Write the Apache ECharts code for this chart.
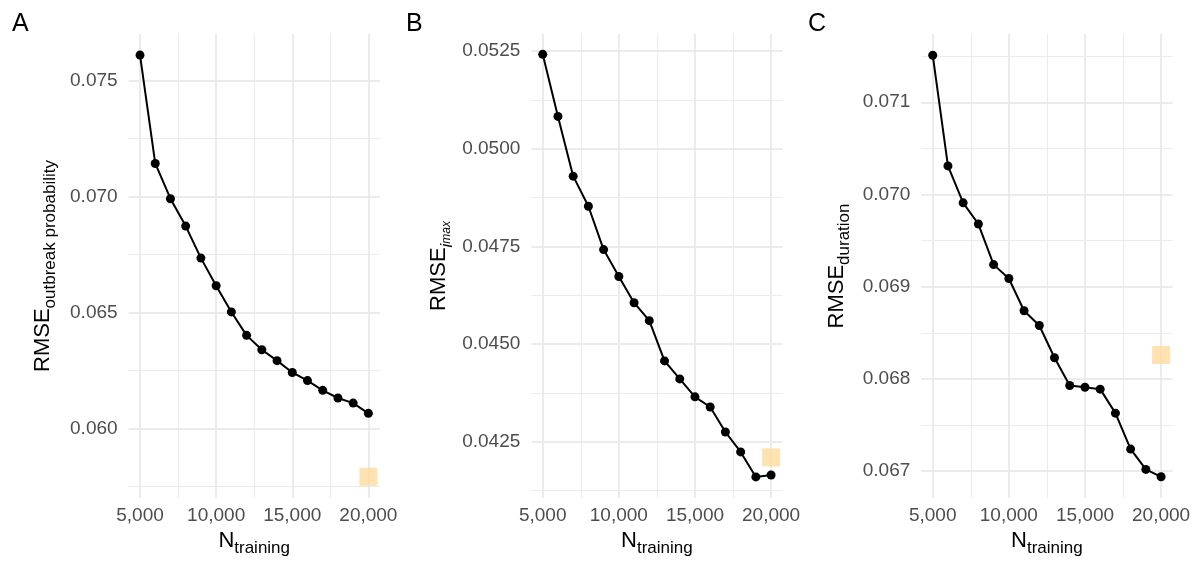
<!DOCTYPE html>
<html>
<head>
<meta charset="utf-8">
<script src="https://cdn.jsdelivr.net/npm/echarts@6/dist/echarts.min.js"></script>
<style>
html,body{margin:0;padding:0;background:#fff;}
#chart{width:1198px;height:563px;}
</style>
</head>
<body>
<div id="chart"></div>
<script>
// ---- data ----
const nTraining = [5000, 6000, 7000, 8000, 9000, 10000, 11000, 12000, 13000, 14000, 15000, 16000, 17000, 18000, 19000, 20000];
const rmseOutbreak = [0.07609, 0.07142, 0.06990, 0.06872, 0.06734, 0.06615, 0.06502, 0.06401, 0.06339, 0.06292, 0.06241, 0.06206, 0.06164, 0.06131, 0.06109, 0.06065];
const rmseImax = [0.05242, 0.05083, 0.04930, 0.04853, 0.04742, 0.04673, 0.04606, 0.04560, 0.04457, 0.04411, 0.04365, 0.04339, 0.04275, 0.04224, 0.04160, 0.04165];
const rmseDuration = [0.07151, 0.07031, 0.06991, 0.06968, 0.06924, 0.06909, 0.06874, 0.06858, 0.06823, 0.06793, 0.06791, 0.06789, 0.06763, 0.06724, 0.06702, 0.06694];
const benchmarkN = [20000];
const benchOutbreak = [0.05791];
const benchImax = [0.04210];
const benchDuration = [0.06826];
const panelLetters = ['A', 'B', 'C'];
const xMajorTicks = [5000, 10000, 15000, 20000];
const xMinorTicks = [7500, 12500, 17500];
const yMajorA = [0.060, 0.065, 0.070, 0.075];
const yMinorA = [0.0575, 0.0625, 0.0675, 0.0725];
const yMajorB = [0.0425, 0.0450, 0.0475, 0.0500, 0.0525];
const yMinorB = [0.04125, 0.04375, 0.04625, 0.04875, 0.05125];
const yMajorC = [0.067, 0.068, 0.069, 0.070, 0.071];
const yMinorC = [0.0675, 0.0685, 0.0695, 0.0705, 0.0715];

// ---- layout / style ----
const FONT = '"Liberation Sans", Arial, Helvetica, sans-serif';
const GRID_COLOR = '#EBEBEB';
const panels = [
  {left: 128.6, ext: [0.0570, 0.0770], maj: yMajorA, min: yMinorA, dec: 3, y: rmseOutbreak, b: benchOutbreak,
   name: '{n|RMSE}{s|outbreak probability}', gap: 60},
  {left: 531.3, ext: [0.04106, 0.05294], maj: yMajorB, min: yMinorB, dec: 4, y: rmseImax, b: benchImax,
   name: '{n|RMSE}{si|i}{ss|max}', gap: 66},
  {left: 921.3, ext: [0.06671, 0.07174], maj: yMajorC, min: yMinorC, dec: 3, y: rmseDuration, b: benchDuration,
   name: '{n|RMSE}{s|duration}', gap: 58}
];
const PW = 251.2, TOP = 34, BOTTOM = 563 - 498;

const richTitle = {
  n: {fontSize: 22, lineHeight: 22, verticalAlign: 'top', fontFamily: FONT, color: '#000'},
  s: {fontSize: 17, lineHeight: 37, verticalAlign: 'middle', fontFamily: FONT, color: '#000'},
  si: {fontSize: 17, lineHeight: 37, fontStyle: 'italic', verticalAlign: 'middle', fontFamily: FONT, color: '#000'},
  ss: {fontSize: 12, lineHeight: 37, fontStyle: 'italic', verticalAlign: 'middle', fontFamily: FONT, color: '#000'}
};

const grids = [], xAxes = [], yAxes = [], series = [], titles = [];
const letterLeft = [12, 406, 808];
panels.forEach((p, i) => {
  grids.push({left: p.left, width: PW, top: TOP, bottom: BOTTOM, containLabel: false});
  titles.push({text: panelLetters[i], left: letterLeft[i], top: 12, padding: 0,
    textStyle: {fontFamily: FONT, fontSize: 25, fontWeight: 'normal', color: '#000'}});
  const xBase = {type: 'value', gridIndex: i, min: 4250, max: 20750,
    axisLine: {show: false}, axisTick: {show: false}};
  // major x gridlines + labels
  xAxes.push(Object.assign({}, xBase, {
    axisTick: {show: false, customValues: xMajorTicks},
    axisLabel: {customValues: xMajorTicks, color: '#4D4D4D', fontFamily: FONT, fontSize: 19, margin: 8,
      formatter: v => Number(v).toLocaleString('en-US')},
    splitLine: {show: true, lineStyle: {color: GRID_COLOR, width: 2}},
    name: '{n|N}{s|training}', nameLocation: 'middle', nameGap: 30,
    nameTextStyle: {color: '#000', fontFamily: FONT, rich: richTitle}
  }));
  // minor x gridlines
  xAxes.push(Object.assign({}, xBase, {
    axisTick: {show: false, customValues: xMinorTicks},
    axisLabel: {show: false, customValues: xMinorTicks},
    splitLine: {show: true, lineStyle: {color: GRID_COLOR, width: 1.1}}
  }));
  const yBase = {type: 'value', gridIndex: i, min: p.ext[0], max: p.ext[1],
    axisLine: {show: false}};
  yAxes.push(Object.assign({}, yBase, {
    axisTick: {show: false, customValues: p.maj},
    axisLabel: {customValues: p.maj, color: '#4D4D4D', fontFamily: FONT, fontSize: 19, margin: 11,
      formatter: v => Number(v).toFixed(p.dec)},
    splitLine: {show: true, lineStyle: {color: GRID_COLOR, width: 2}},
    name: p.name, nameLocation: 'middle', nameGap: p.gap, nameRotate: 90,
    nameTextStyle: {color: '#000', fontFamily: FONT, rich: richTitle}
  }));
  yAxes.push(Object.assign({}, yBase, {
    axisTick: {show: false, customValues: p.min},
    axisLabel: {show: false, customValues: p.min},
    splitLine: {show: true, lineStyle: {color: GRID_COLOR, width: 1.1}}
  }));
  series.push({
    type: 'scatter', xAxisIndex: 2 * i, yAxisIndex: 2 * i,
    data: benchmarkN.map((n, k) => [n, p.b[k]]),
    symbol: 'rect', symbolSize: 18, itemStyle: {color: '#FEDC9C'}, silent: true, z: 2
  });
  series.push({
    type: 'line', xAxisIndex: 2 * i, yAxisIndex: 2 * i,
    data: nTraining.map((n, k) => [n, p.y[k]]),
    symbol: 'circle', symbolSize: 9, showSymbol: true,
    lineStyle: {color: '#000', width: 2}, itemStyle: {color: '#000'},
    animation: false, silent: true, z: 3
  });
});

const chart = echarts.init(document.getElementById('chart'), null, {renderer: 'canvas'});
chart.setOption({
  animation: false,
  backgroundColor: '#fff',
  title: titles,
  grid: grids,
  xAxis: xAxes,
  yAxis: yAxes,
  series: series
});
</script>
</body>
</html>
